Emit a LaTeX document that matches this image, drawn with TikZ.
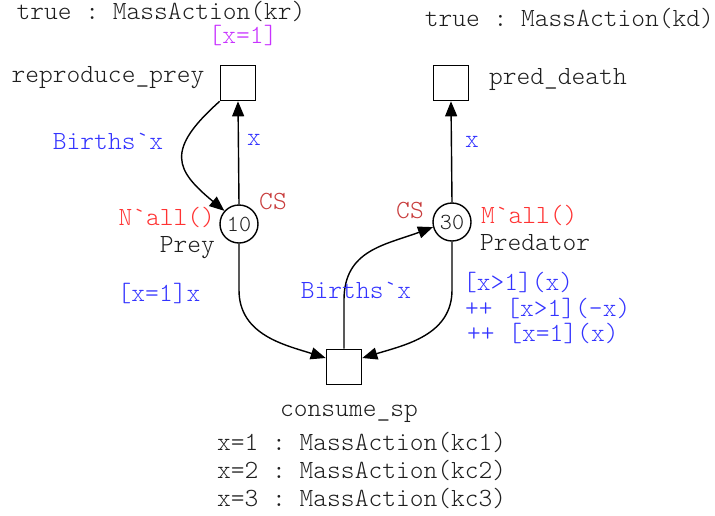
\documentclass[tikz,border=0pt]{standalone}
\usepackage{fontspec}
\setmonofont{lmmonolt10-regular.otf}
\usetikzlibrary{arrows.meta}
\definecolor{arcblue}{RGB}{51,51,255}
\definecolor{initred}{RGB}{255,51,51}
\definecolor{csred}{RGB}{200,60,60}
\definecolor{guardmag}{RGB}{200,50,255}
\definecolor{ink}{RGB}{30,30,30}
\tikzset{
  txt/.style={font=\ttfamily\fontsize{26.2}{30}\selectfont, inner sep=0pt, text=ink},
  trans/.style={draw=black, line width=1.6pt, minimum size=35pt, inner sep=0pt},
  place/.style={circle, draw=black, line width=1.4pt, minimum size=38pt, inner sep=0pt,
    font=\ttfamily\fontsize{23}{25}\selectfont, text=ink},
  arc/.style={line width=1.4pt, -{Triangle[length=15pt,width=12pt]}},
  inscr/.style={txt, text=arcblue},
  initm/.style={txt, text=initred},
  cslab/.style={txt, text=csred},
}
\begin{document}
\begin{tikzpicture}[x=1pt,y=-1pt]
\useasboundingbox (0,0) rectangle (715,515);

% transitions
\node[trans] (rp) at (238,83) {};
\node[trans] (pd) at (451,83) {};
\node[trans] (cs) at (344,367) {};

% places
\node[place] (prey) at (239,224) {10};
\node[place] (pred) at (452,222) {30};

% transition names and rates
\node[txt, anchor=mid] (rpname) at (108,80) {reproduce\_prey};
\node[txt, anchor=mid] (rprate) at (161,17) {true : MassAction(kr)};
\node[txt, anchor=mid, text=guardmag] (rpguard) at (243,41) {[x=1]};
\node[txt, anchor=mid west] (pdname) at (489,82) {pred\_death};
\node[txt, anchor=mid east] (pdrate) at (714,24) {true : MassAction(kd)};
\node[txt, anchor=mid] (csname) at (349,414) {consume\_sp};
\node[txt, anchor=mid west] (csrate1) at (217,448) {x=1 : MassAction(kc1)};
\node[txt, anchor=mid west] (csrate2) at (217,476) {x=2 : MassAction(kc2)};
\node[txt, anchor=mid west] (csrate3) at (217,504) {x=3 : MassAction(kc3)};

% place names, colour sets and initial markings
\node[txt, anchor=mid east] (preyname) at (215,250) {Prey};
\node[initm, anchor=mid east] (preyinit) at (215,223) {N`all()};
\node[cslab, anchor=mid] (preycs) at (273,207) {CS};
\node[txt, anchor=mid west] (predname) at (480,248) {Predator};
\node[initm, anchor=mid west] (predinit) at (481,221) {M`all()};
\node[cslab, anchor=mid] (predcs) at (410,216) {CS};

% arcs
\draw[arc] (prey.north) -- (rp.south);
\draw[arc] (rp.south west) .. controls (165,150) and (175,170) .. (prey.138);
\draw[arc] (pred.north) -- (pd.south);
\draw[arc] (prey.south) -- (239,290) .. controls (239,335) and (285,345) .. ([yshift=9pt]cs.west);
\draw[arc] (cs.north) -- (344,300) .. controls (344,250) and (385,245) .. (pred.195);
\draw[arc] (pred.south) -- (452,290) .. controls (452,335) and (405,345) .. ([yshift=9pt]cs.east);

% arc inscriptions
\node[inscr, anchor=mid] (a1) at (254,143) {x};
\node[inscr, anchor=mid] (a2) at (108,147) {Births`x};
\node[inscr, anchor=mid] (a3) at (472,145) {x};
\node[inscr, anchor=mid] (a4) at (159,299) {[x=1]x};
\node[inscr, anchor=mid] (a5) at (356,296) {Births`x};
\node[inscr, anchor=mid west] (a6) at (463,288) {[x>1](x)};
\node[inscr, anchor=mid west] (a7) at (465,314) {++ [x>1](-x)};
\node[inscr, anchor=mid west] (a8) at (467,339) {++ [x=1](x)};
\end{tikzpicture}
\end{document}
